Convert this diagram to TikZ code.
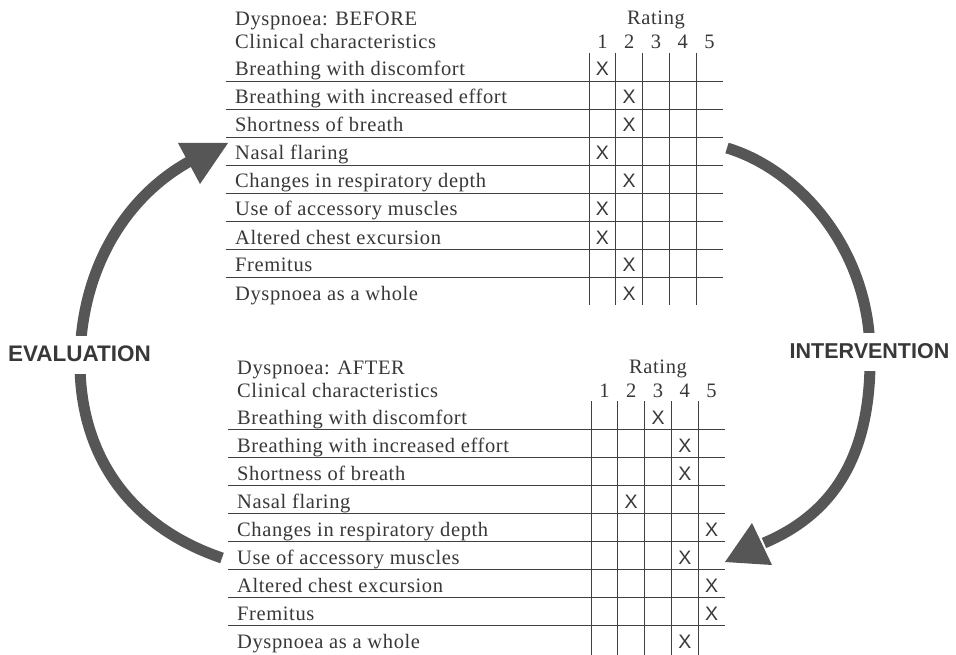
\documentclass[tikz,border=0pt]{standalone}
\usepackage{fontspec}
\setmainfont{Liberation Serif}
\newfontfamily\tabfont[LetterSpace=3]{Liberation Serif}
\newfontfamily\sansfont{Liberation Sans}
\definecolor{ink}{HTML}{383838}
\definecolor{rulecol}{HTML}{404040}
\definecolor{bandcol}{HTML}{565656}
\tikzset{
  ttl/.style={anchor=base west, inner sep=0pt, text=ink, font=\tabfont\fontsize{20.5}{24}\selectfont},
  hdrtxt/.style={anchor=base, inner sep=0pt, text=ink, font=\tabfont\fontsize{20.5}{24}\selectfont},
  xmk/.style={anchor=base, inner sep=0pt, text=ink, font=\sansfont\fontsize{19.5}{22}\selectfont},
  gridline/.style={draw=rulecol, line width=0.9pt},
  band/.style={draw=bandcol, line width=11pt},
  headfill/.style={fill=bandcol},
  lbl/.style={anchor=base, fill=white, text=ink, inner xsep=3pt, inner ysep=10pt,
    text height=15pt, text depth=3pt}
}
\newcommand\dtable[4]{%
  \node[ttl] (#1-title) at (235,26) {Dyspnoea: #2};
  \node[ttl] (#1-cc) at (235,49) {Clinical characteristics};
  \node[hdrtxt] (#1-rating) at (656,25) {Rating};
  \foreach \c in {1,...,5}
    \node[hdrtxt] (#1-n\c) at ({589+26.8*(\c-0.5)},49) {\c};
  \foreach \t [count=\i] in {Breathing with discomfort,Breathing with increased effort,
      Shortness of breath,Nasal flaring,Changes in respiratory depth,
      Use of accessory muscles,Altered chest excursion,Fremitus,Dyspnoea as a whole}
    \node[ttl] (#1-r\i) at (235,{53+28*\i-5}) {\t};
  \foreach \k in {1,...,8}
    \draw[gridline] (226,{53+28*\k}) -- (723,{53+28*\k});
  \foreach \c in {0,...,4}
    \draw[gridline] ({589+26.8*\c},53) -- ({589+26.8*\c},#4);
  \foreach \r/\c in {#3}
    \node[xmk] (#1-x\r) at ({589+26.8*(\c-0.5)},{53+28*\r-5}) {X};
}
\begin{document}
\begin{tikzpicture}[x=1pt,y=-1pt]
\useasboundingbox[fill=white] (0,0) rectangle (956,655);
% tables
\dtable{bef}{BEFORE}{1/1,2/2,3/2,4/1,5/2,6/1,7/1,8/2,9/2}{305}
\begin{scope}[shift={(2,348)}]
\dtable{aft}{AFTER}{1/3,2/4,3/4,4/2,5/5,6/4,7/5,8/5,9/4}{307}
\end{scope}
% evaluation arc (left)
\coordinate (lS) at (222,558);
\coordinate (lM) at (80,360);
\coordinate (lE) at (194,159);
\draw[band] (lS) .. controls (125,525) and (79,450) .. (lM)
  .. controls (81,270) and (125,195) .. (lE);
\coordinate (lT) at (228,143);
\fill[headfill] (178,143) -- (lT) -- (200,184) -- cycle;
% intervention arc (right)
\coordinate (rS) at (727,148);
\coordinate (rM) at (870,352);
\coordinate (rE) at (764,543);
\draw[band] (rS) .. controls (800,170) and (869,250) .. (rM)
  .. controls (872,460) and (830,515) .. (rE);
\coordinate (rT) at (725,562);
\fill[headfill] (752,523) -- (rT) -- (772,565) -- cycle;
% labels
\node[lbl, font=\sansfont\bfseries\fontsize{22.5}{24}\selectfont] (eval) at (79.5,361) {EVALUATION};
\node[lbl, font=\sansfont\bfseries\fontsize{21.5}{24}\selectfont] (interv) at (869.5,358) {INTERVENTION};
\end{tikzpicture}
\end{document}
